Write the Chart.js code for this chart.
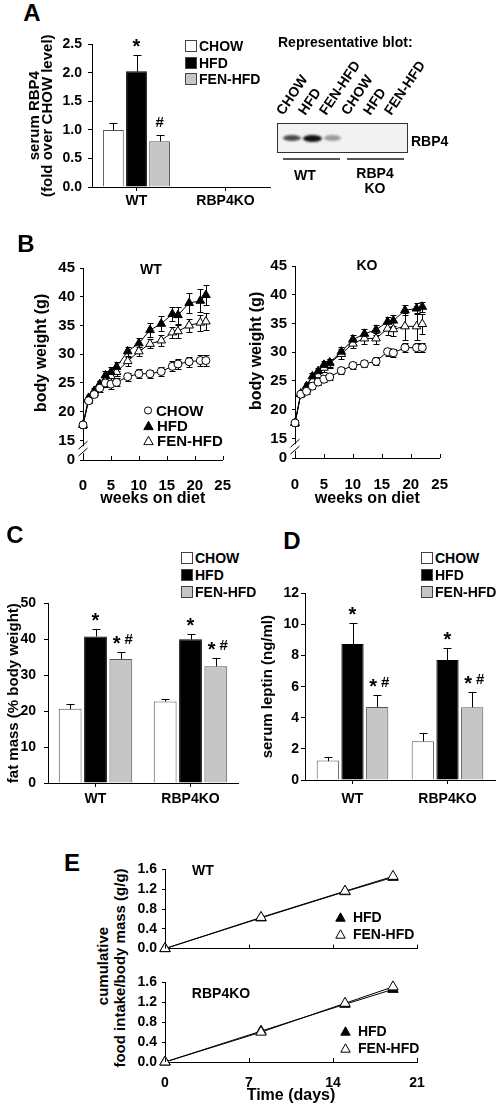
<!DOCTYPE html>
<html lang="en">
<head>
<meta charset="UTF-8">
<title>RBP4 / fenretinide</title>
<script src="https://cdn.jsdelivr.net/npm/chart.js"></script>
<style>
  html, body { margin: 0; padding: 0; background: #fff; }
  body { position: relative; width: 496px; height: 1104px; overflow: hidden;
         font-family: "Liberation Sans", Arial, sans-serif; font-weight: bold; color: #000; }
  canvas { position: absolute; }
  .t { position: absolute; line-height: 1; white-space: nowrap; transform: translate(-50%, -50%); }
  .l { position: absolute; line-height: 1; white-space: nowrap; transform: translate(0, -50%); }
  .letter { font-size: 24px; }
  .lg { position: absolute; display: flex; align-items: center; font-size: 14px; line-height: 1;
        transform: translateY(-50%); white-space: nowrap; }
  .lg i { display: inline-block; box-sizing: border-box; width: 12px; height: 12px; border: 1px solid #444; margin-right: 2px; }
  .lg svg { margin-right: 3px; }
  .blot { position: absolute; left: 277px; top: 123px; width: 131px; height: 30px; box-sizing: border-box;
          border: 1.5px solid #333; background: #f2f2f2; }
  .band { position: absolute; top: 11px; height: 6px; border-radius: 50%; filter: blur(1px); }
  .lane { position: absolute; font-size: 14px; line-height: 1; transform-origin: 0 100%; transform: rotate(-56deg); white-space: nowrap; }
  .rule { position: absolute; height: 0; border-top: 2px solid #555; }
  .vt { position: absolute; line-height: 1; white-space: nowrap; transform: translate(-50%, -50%) rotate(-90deg); }
</style>
</head>
<body>
<canvas id="chartA"></canvas>
<canvas id="chartBwt"></canvas>
<canvas id="chartBko"></canvas>
<canvas id="chartC"></canvas>
<canvas id="chartD"></canvas>
<canvas id="chartEwt"></canvas>
<canvas id="chartEko"></canvas>

<div class="t letter" style="left:32px;top:13px">A</div>
<div class="t letter" style="left:26px;top:244px">B</div>
<div class="t letter" style="left:15px;top:535px">C</div>
<div class="t letter" style="left:292px;top:541px">D</div>
<div class="t letter" style="left:72px;top:863px">E</div>

<!-- western blot inset -->
<div class="l" style="left:278px;top:42px;font-size:14px">Representative blot:</div>
<div class="blot">
  <div class="band" style="left:5px;width:18px;background:#4a4a4a"></div>
  <div class="band" style="left:25px;width:19px;height:7px;background:#111"></div>
  <div class="band" style="left:46px;width:17px;background:#9a9a9a"></div>
</div>
<div class="l" style="left:411px;top:141px;font-size:14px">RBP4</div>
<div class="rule" style="left:283px;top:158px;width:57px"></div>
<div class="rule" style="left:347px;top:158px;width:57px"></div>
<div class="t" style="left:305px;top:175px;font-size:14px">WT</div>
<div class="t" style="left:375px;top:173px;font-size:14px">RBP4</div>
<div class="t" style="left:375px;top:188px;font-size:14px">KO</div>

<div class="t" style="left:151px;top:269px;font-size:14px">WT</div>
<div class="t" style="left:367px;top:265px;font-size:14px">KO</div>

<div class="t" style="left:203px;top:870px;font-size:14px">WT</div>
<div class="t" style="left:221px;top:993px;font-size:14px">RBP4KO</div>
<div class="vt" style="left:102px;top:966px;font-size:15px">cumulative</div>
<div class="vt" style="left:119px;top:968px;font-size:15px">food intake/body mass (g/g)</div>

<script>
// ---------- data ----------
const diets = ['CHOW', 'HFD', 'FEN-HFD'];
const genotypes = ['WT', 'RBP4KO'];

// A: serum RBP4, fold over CHOW level (nothing detected in RBP4KO)
const rbp4Chow = [1.00, null];
const rbp4Hfd = [2.03, null];
const rbp4Fen = [0.80, null];
const rbp4ChowErr = [0.13, null];
const rbp4HfdErr = [0.28, null];
const rbp4FenErr = [0.12, null];
const rbp4HfdSig = ['*', ''];
const rbp4FenSig = ['#', ''];

// B: body weight (g) per week on diet
const weeks = [0, 1, 2, 3, 4, 5, 6, 8, 10, 12, 14, 16, 17, 19, 21, 22];
const wtChow = [17.7, 21.9, 23.0, 24.1, 25.0, 24.8, 25.1, 26.1, 26.6, 26.6, 27.0, 27.9, 28.3, 28.7, 28.9, 28.9];
const wtChowErr = [0.5, 0.4, 0.5, 0.6, 0.7, 0.8, 0.7, 0.7, 0.8, 0.7, 0.8, 0.9, 0.9, 0.9, 0.9, 0.9];
const wtHfd = [17.7, 22.4, 23.6, 24.8, 26.3, 26.9, 27.8, 30.5, 31.9, 34.2, 35.3, 37.0, 36.8, 38.9, 39.3, 40.3];
const wtHfdErr = [0.5, 0.5, 0.6, 0.6, 0.7, 0.8, 0.8, 0.8, 1.0, 1.2, 1.3, 1.3, 1.5, 1.7, 2.0, 1.8];
const wtFen = [17.7, 22.1, 23.2, 24.7, 25.5, 26.2, 26.9, 28.8, 30.5, 31.8, 32.4, 33.8, 34.0, 35.0, 35.5, 35.7];
const wtFenErr = [0.5, 0.5, 0.5, 0.6, 0.6, 0.7, 0.7, 0.8, 0.8, 0.8, 0.9, 1.0, 1.1, 1.2, 1.4, 1.4];
const koChow = [17.7, 22.7, 23.2, 24.1, 24.8, 25.3, 25.7, 26.8, 27.7, 28.0, 28.4, 30.1, 29.9, 30.8, 30.8, 30.8];
const koChowErr = [0.5, 0.4, 0.4, 0.5, 0.5, 0.5, 0.5, 0.6, 0.6, 0.6, 0.7, 0.7, 0.7, 0.8, 0.8, 0.8];
const koHfd = [17.7, 22.8, 24.1, 25.8, 26.7, 27.8, 28.2, 30.1, 32.2, 33.2, 33.9, 35.3, 35.5, 37.3, 37.6, 37.9];
const koHfdErr = [0.5, 0.5, 0.5, 0.6, 0.6, 0.7, 0.7, 0.8, 0.8, 0.8, 0.9, 0.9, 0.9, 0.9, 0.9, 0.9];
const koFen = [17.7, 22.7, 23.6, 25.1, 26.0, 27.3, 28.1, 29.7, 31.5, 32.4, 32.4, 34.1, 34.0, 34.5, 34.5, 34.9];
const koFenErr = [0.5, 0.5, 0.5, 0.6, 0.6, 0.7, 0.8, 0.8, 0.8, 0.9, 1.0, 1.1, 1.2, 2.4, 2.4, 1.8];
const bwTicks = [15, 20, 25, 30, 35, 40, 45];
const bwZero = 11.6;            // value that carries the "0" label below the break
const bwGap = [12.8, 14.0];     // broken part of the axis

// C: fat mass (% body weight)
const fatChow = [20.7, 22.7];
const fatHfd = [40.8, 40.0];
const fatFen = [34.5, 32.5];
const fatChowErr = [1.3, 0.8];
const fatHfdErr = [2.2, 1.4];
const fatFenErr = [2.1, 2.3];
const fatHfdSig = ['*', '*'];
const fatFenSig = ['*#', '*#'];

// D: serum leptin (ng/ml)
const leptinChow = [1.25, 2.5];
const leptinHfd = [8.75, 7.72];
const leptinFen = [4.7, 4.68];
const leptinChowErr = [0.26, 0.52];
const leptinHfdErr = [1.35, 0.78];
const leptinFenErr = [0.76, 0.96];
const leptinHfdSig = ['*', '*'];
const leptinFenSig = ['*#', '*#'];

// E: cumulative food intake / body mass (g/g)
const days = [0, 8, 15, 19];
const wtFoodHfd = [0, 0.62, 1.15, 1.44];
const wtFoodFen = [0, 0.63, 1.16, 1.46];
const koFoodHfd = [0, 0.62, 1.16, 1.46];
const koFoodFen = [0, 0.60, 1.18, 1.51];

// ---------- styles ----------
const dietFill = ['#ffffff', '#000000', '#c6c6c6'];
const dietEdge = ['#555555', '#000000', '#555555'];
const dietPoint = ['circle', 'triangle', 'triangle'];
const dietPointFill = ['#ffffff', '#000000', '#ffffff'];
const dietRadius = [4, 5, 5];

Chart.defaults.font.family = '"Liberation Sans", Arial, sans-serif';
Chart.defaults.font.weight = 'bold';
Chart.defaults.font.size = 14;
Chart.defaults.color = '#000';
Chart.defaults.animation = false;
Chart.defaults.plugins.legend.display = false;
Chart.defaults.plugins.tooltip.enabled = false;

// error bars (only upwards on bars) + significance marks
const errorBars = {
  id: 'errorBars',
  beforeDatasetsDraw(chart) {
    const { ctx } = chart;
    const ys = chart.scales.y;
    chart.data.datasets.forEach((ds, i) => {
      if (!ds.errors) return;
      const meta = chart.getDatasetMeta(i);
      const both = meta.type === 'line';
      ctx.save();
      ctx.strokeStyle = '#000';
      ctx.lineWidth = 1;
      ctx.beginPath();
      meta.data.forEach((el, j) => {
        const d = ds.data[j];
        const v = d !== null && typeof d === 'object' ? d.y : d;
        const e = ds.errors[j];
        if (v == null || !e) return;
        const x = Math.round(el.x) + 0.5;
        const top = Math.round(ys.getPixelForValue(v + e)) + 0.5;
        const bot = Math.round(ys.getPixelForValue(both ? v - e : v)) + 0.5;
        const cap = both ? 3 : 4;
        ctx.moveTo(x, top); ctx.lineTo(x, bot);
        ctx.moveTo(x - cap, top); ctx.lineTo(x + cap, top);
        if (both) { ctx.moveTo(x - cap, bot); ctx.lineTo(x + cap, bot); }
      });
      ctx.stroke();
      ctx.restore();
    });
  },
  afterDatasetsDraw(chart) {
    const { ctx } = chart;
    const ys = chart.scales.y;
    const fam = '"Liberation Sans", Arial, sans-serif';
    // asterisk is set bigger than the hash, both centred ~13px over the error cap
    const look = { '*': { font: 'bold 20px ' + fam, lift: 2 }, '#': { font: 'bold 15px ' + fam, lift: 8 } };
    chart.data.datasets.forEach((ds, i) => {
      if (!ds.marks) return;
      const meta = chart.getDatasetMeta(i);
      ctx.save();
      ctx.fillStyle = '#000';
      ctx.textAlign = 'left';
      ctx.textBaseline = 'alphabetic';
      meta.data.forEach((el, j) => {
        const mark = ds.marks[j];
        if (!mark) return;
        const top = ys.getPixelForValue(ds.data[j] + (ds.errors ? ds.errors[j] : 0));
        const chars = mark.split('');
        const gap = 4;
        const widths = chars.map(c => { ctx.font = look[c].font; return ctx.measureText(c).width; });
        let x = el.x - (widths.reduce((a, b) => a + b, 0) + gap * (chars.length - 1)) / 2 + (chars.length > 1 ? 2 : 0);
        chars.forEach((c, k) => {
          ctx.font = look[c].font;
          ctx.fillText(c, x, top - look[c].lift);
          x += widths[k] + gap;
        });
      });
      ctx.restore();
    });
  }
};

// tick marks pointing up into the plot from the x axis
const innerTicks = {
  id: 'innerTicks',
  afterDraw(chart, args, opts) {
    if (!opts.length) return;
    const { ctx } = chart;
    const xs = chart.scales.x;
    const yb = chart.chartArea.bottom;
    ctx.save();
    ctx.strokeStyle = '#000';
    ctx.lineWidth = 1;
    ctx.beginPath();
    xs.ticks.forEach(t => {
      const px = Math.round(xs.getPixelForValue(t.value)) + 0.5;
      ctx.moveTo(px, yb);
      ctx.lineTo(px, yb - opts.length);
    });
    ctx.stroke();
    ctx.restore();
  }
};

// "//" break on the y axis
const axisBreak = {
  id: 'axisBreak',
  afterDraw(chart, args, opts) {
    if (!opts.gap) return;
    const { ctx } = chart;
    const ys = chart.scales.y;
    const x = chart.chartArea.left + 0.5;
    const y1 = ys.getPixelForValue(opts.gap[1]);
    const y2 = ys.getPixelForValue(opts.gap[0]);
    ctx.save();
    ctx.fillStyle = '#fff';
    ctx.fillRect(x - 2, y1, 4, y2 - y1);
    ctx.strokeStyle = '#000';
    ctx.lineWidth = 1;
    ctx.beginPath();
    ctx.moveTo(x - 5, y1 + 3); ctx.lineTo(x + 4, y1 - 5);
    ctx.moveTo(x - 5, y2 + 3); ctx.lineTo(x + 4, y2 - 5);
    ctx.stroke();
    ctx.restore();
  }
};

// area = plot rectangle on the page, box = canvas rectangle around it
function frame(id, area, box) {
  const cv = document.getElementById(id);
  cv.width = box.r - box.l;
  cv.height = box.b - box.t;
  cv.style.left = box.l + 'px';
  cv.style.top = box.t + 'px';
  return {
    cv,
    padding: { top: area.t - box.t, right: box.r - area.r, left: 0, bottom: 0 },
    yW: area.l - box.l,
    xH: box.b - area.b
  };
}

function barChart(id, area, box, opt) {
  const f = frame(id, area, box);
  new Chart(f.cv, {
    type: 'bar',
    data: {
      labels: genotypes,
      datasets: opt.series.map((s, i) => ({
        label: diets[i],
        data: s[0],
        errors: s[1],
        marks: s[2],
        backgroundColor: dietFill[i],
        borderColor: dietEdge[i],
        borderWidth: 1,
        categoryPercentage: opt.cat,
        barPercentage: 0.9
      }))
    },
    options: {
      responsive: false,
      layout: { padding: f.padding },
      scales: {
        x: {
          grid: { drawOnChartArea: false, offset: false, tickLength: 4, color: '#000' },
          border: { color: '#000' },
          ticks: { padding: opt.xPad, maxRotation: 0, font: { size: 14 } },
          afterFit: s => { s.height = f.xH; }
        },
        y: {
          min: 0, max: opt.max,
          grid: { drawOnChartArea: false, tickLength: 4, color: '#000' },
          border: { color: '#000' },
          ticks: { stepSize: opt.step, padding: opt.yPad, font: { size: 14 }, callback: opt.fmt },
          title: { display: true, text: opt.title, font: { size: 15, lineHeight: opt.lh },
                   padding: { top: opt.tPad, bottom: 0 } },
          afterFit: s => { s.width = f.yW; }
        }
      }
    },
    plugins: [errorBars]
  });
}

function weightChart(id, area, box, series, tPad, xPad) {
  const f = frame(id, area, box);
  new Chart(f.cv, {
    type: 'line',
    data: {
      datasets: series.map((s, i) => ({
        label: diets[i],
        data: weeks.map((w, k) => ({ x: w, y: s[0][k] })),
        errors: s[1],
        borderColor: '#000',
        borderWidth: 1,
        pointStyle: dietPoint[i],
        pointRadius: dietRadius[i],
        pointBackgroundColor: dietPointFill[i],
        pointBorderColor: '#000',
        pointBorderWidth: 1,
        clip: false
      }))
    },
    options: {
      responsive: false,
      layout: { padding: f.padding },
      scales: {
        x: {
          type: 'linear', min: 0, max: 25,
          grid: { display: false },
          border: { color: '#000' },
          ticks: { stepSize: 5, padding: xPad, font: { size: 15 } },
          title: { display: true, text: 'weeks on diet', font: { size: 16 }, padding: 0 },
          afterFit: s => { s.height = f.xH; }
        },
        y: {
          min: bwZero, max: 45,
          afterBuildTicks: s => { s.ticks = [bwZero, ...bwTicks].map(v => ({ value: v })); },
          grid: { drawOnChartArea: false, tickLength: 3, color: '#000' },
          border: { color: '#000' },
          ticks: { padding: 5, font: { size: 15 }, callback: v => (v === bwZero ? '0' : v) },
          title: { display: true, text: '     body weight (g)', font: { size: 16 },
                   padding: { top: tPad, bottom: 0 } },
          afterFit: s => { s.width = f.yW; }
        }
      },
      plugins: { innerTicks: { length: 4 }, axisBreak: { gap: bwGap } }
    },
    plugins: [errorBars, innerTicks, axisBreak]
  });
}

function intakeChart(id, area, box, hfd, fen, withLabels) {
  const f = frame(id, area, box);
  const set = (vals, fill, order) => ({
    data: days.map((d, k) => ({ x: d, y: vals[k] })),
    borderColor: '#000',
    borderWidth: 1,
    pointStyle: 'triangle',
    pointRadius: 6,
    pointBackgroundColor: fill,
    pointBorderColor: '#000',
    pointBorderWidth: 1,
    order,
    clip: false
  });
  new Chart(f.cv, {
    type: 'line',
    data: { datasets: [Object.assign(set(hfd, '#000', 1), { label: 'HFD' }),
                       Object.assign(set(fen, '#fff', 0), { label: 'FEN-HFD' })] },
    options: {
      responsive: false,
      layout: { padding: f.padding },
      scales: {
        x: {
          type: 'linear', min: 0, max: 21,
          grid: { display: false },
          border: { color: '#000' },
          ticks: { display: withLabels, stepSize: 7, padding: 5, font: { size: 14 } },
          title: { display: withLabels, text: 'Time (days)', font: { size: 16 }, padding: 0 },
          afterFit: s => { s.height = f.xH; }
        },
        y: {
          min: 0, max: 1.6,
          grid: { drawOnChartArea: false, tickLength: 3, color: '#000' },
          border: { color: '#000' },
          ticks: { stepSize: 0.2, padding: 5, font: { size: 14 },
                   callback: v => (Math.round(v * 10) % 4 === 0 ? v.toFixed(1) : '') },
          afterFit: s => { s.width = f.yW; }
        }
      },
      plugins: { innerTicks: { length: 4 } }
    },
    plugins: [innerTicks]
  });
}

// ---------- panels ----------
barChart('chartA', { l: 92, r: 270, t: 40, b: 187 }, { l: 0, r: 280, t: 30, b: 215 }, {
  series: [[rbp4Chow, rbp4ChowErr], [rbp4Hfd, rbp4HfdErr, rbp4HfdSig], [rbp4Fen, rbp4FenErr, rbp4FenSig]],
  max: 2.5, step: 0.5, fmt: v => v.toFixed(1),
  title: ['serum RBP4', '(fold over CHOW level)'], lh: 0.9, tPad: 28, yPad: 6, xPad: 2, cat: 0.78
});

weightChart('chartBwt', { l: 83, r: 230, t: 264, b: 460 }, { l: 0, r: 240, t: 254, b: 508 },
  [[wtChow, wtChowErr], [wtHfd, wtHfdErr], [wtFen, wtFenErr]], 32, 9);
weightChart('chartBko', { l: 295, r: 445, t: 262, b: 458 }, { l: 247, r: 458, t: 252, b: 508 },
  [[koChow, koChowErr], [koHfd, koHfdErr], [koFen, koFenErr]], 0, 10);

barChart('chartC', { l: 48, r: 238, t: 597, b: 783 }, { l: 0, r: 248, t: 587, b: 813 }, {
  series: [[fatChow, fatChowErr], [fatHfd, fatHfdErr, fatHfdSig], [fatFen, fatFenErr, fatFenSig]],
  max: 50, step: 10, fmt: v => v,
  title: 'fat mass (% body weight)', lh: 1.2, tPad: 5, yPad: 8, xPad: 4, cat: 0.8
});

barChart('chartD', { l: 305, r: 495, t: 593, b: 780 }, { l: 250, r: 496, t: 583, b: 812 }, {
  series: [[leptinChow, leptinChowErr], [leptinHfd, leptinHfdErr, leptinHfdSig], [leptinFen, leptinFenErr, leptinFenSig]],
  max: 12, step: 2, fmt: v => v,
  title: 'serum leptin (ng/ml)', lh: 1.2, tPad: 9, yPad: 2, xPad: 7, cat: 0.78
});

intakeChart('chartEwt', { l: 165, r: 417, t: 866, b: 952 }, { l: 130, r: 430, t: 856, b: 962 },
  wtFoodHfd, wtFoodFen, false);
intakeChart('chartEko', { l: 165, r: 417, t: 979, b: 1062 }, { l: 130, r: 430, t: 969, b: 1105 },
  koFoodHfd, koFoodFen, true);

// ---------- legends and blot lane labels ----------
function addEl(cls, x, y, html) {
  const el = document.createElement('div');
  el.className = cls;
  el.style.left = x + 'px';
  el.style.top = y + 'px';
  el.innerHTML = html;
  document.body.appendChild(el);
  return el;
}

function marker(shape, fill) {
  if (shape === 'circle') {
    return `<svg width="10" height="10"><circle cx="5" cy="5" r="3.6" fill="${fill}" stroke="#000"/></svg>`;
  }
  return `<svg width="11" height="10"><polygon points="5.5,0.8 10.2,9.2 0.8,9.2" fill="${fill}" stroke="#000"/></svg>`;
}

function barLegend(x, y, step) {
  diets.forEach((name, i) => {
    addEl('lg', x, y + i * step, `<i style="background:${dietFill[i]}"></i>${name}`);
  });
}
barLegend(185, 46, 16.5);
barLegend(181, 558, 17);
barLegend(421, 558, 17);

diets.forEach((name, i) => {
  addEl('lg', 143, 410 + i * 15, marker(dietPoint[i], dietPointFill[i]) + name).style.fontSize = '15px';
});

[[335, 917], [340, 1031]].forEach(([x, y]) => {
  addEl('lg', x, y, marker('triangle', '#000') + '&nbsp;HFD');
  addEl('lg', x, y + 17, marker('triangle', '#fff') + '&nbsp;FEN-HFD');
});

const laneX = [285, 307, 328, 350, 372, 393];
laneX.forEach((x, k) => {
  addEl('lane', x, 117 - 14, diets[k % 3]);
});
</script>
</body>
</html>
